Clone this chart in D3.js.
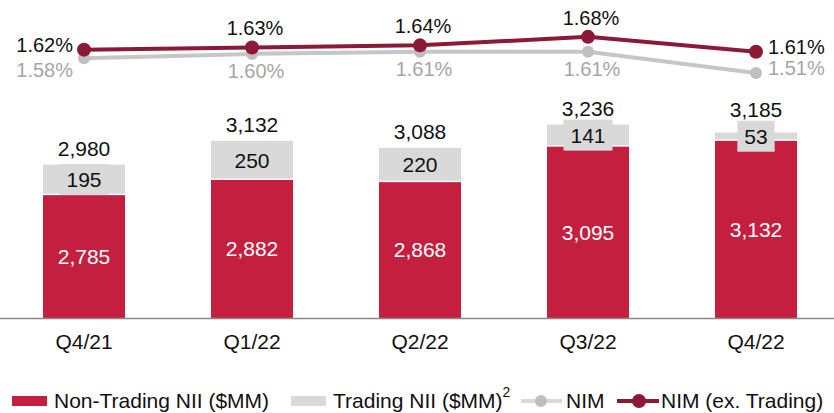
<!DOCTYPE html>
<html>
<head>
<meta charset="utf-8">
<script src="https://cdn.jsdelivr.net/npm/d3@7"></script>
<style>
  body { margin: 0; background: #fff; }
  svg { display: block; font-family: "Liberation Sans", Arial, sans-serif; }
</style>
</head>
<body>
<svg id="chart"></svg>
<script>
const quarters = ['Q4/21', 'Q1/22', 'Q2/22', 'Q3/22', 'Q4/22'];
const nonTrading = [2785, 2882, 2868, 3095, 3132];
const trading = [195, 250, 220, 141, 53];
const totals = [2980, 3132, 3088, 3236, 3185];
const nim = [1.58, 1.60, 1.61, 1.61, 1.51];
const nimExTrading = [1.62, 1.63, 1.64, 1.68, 1.61];

const width = 834, height = 413;
const baseY = 318;
const red = '#C41F3E', lightGray = '#D9D9D9', darkRed = '#8C1A36', nimGray = '#C6C6C6', nimText = '#A6A6A6';
const barFont = 21, pctFont = 20, legFont = 21;

const svg = d3.select('#chart').attr('width', width).attr('height', height);

const x = d3.scaleBand().domain(quarters).range([0, 840]).paddingInner(0.512).paddingOuter(0.256);
const y = d3.scaleLinear().domain([2000, 4032]).range([baseY, 0]);
const yPct = d3.scaleLinear().domain([0.36, 1.853]).range([baseY, 0]);
const fmt = d3.format(',');
const pct = d => d.toFixed(2) + '%';

const data = quarters.map((q, i) => ({
  q, nt: nonTrading[i], tr: trading[i], total: totals[i], nim: nim[i], nimx: nimExTrading[i]
}));

// bars
const g = svg.append('g');
g.selectAll('rect.nt').data(data).join('rect')
  .attr('class', 'nt')
  .attr('x', d => x(d.q)).attr('width', x.bandwidth())
  .attr('y', d => y(d.nt)).attr('height', d => baseY - y(d.nt))
  .attr('fill', red);

g.selectAll('rect.tr').data(data).join('rect')
  .attr('class', 'tr')
  .attr('x', d => x(d.q)).attr('width', x.bandwidth())
  .attr('y', d => y(d.nt + d.tr)).attr('height', d => y(d.nt) - y(d.nt + d.tr) - 1.5)
  .attr('fill', lightGray);

// trading label boxes + labels
const trLabel = g.selectAll('g.trl').data(data).join('g').attr('class', 'trl')
  .attr('transform', d => `translate(${x(d.q) + x.bandwidth() / 2},${(y(d.nt) + y(d.nt + d.tr)) / 2})`);
trLabel.append('text')
  .attr('text-anchor', 'middle').attr('dy', '0.35em')
  .attr('font-size', barFont).attr('fill', '#111')
  .text(d => d.tr)
  .each(function(d) {
    const bb = this.getBBox();
    d.boxW = bb.width + 14;
    d.boxTop = (y(d.nt) + y(d.nt + d.tr)) / 2 - 16;
  });
trLabel.insert('rect', 'text')
  .attr('x', d => -d.boxW / 2).attr('width', d => d.boxW)
  .attr('y', -16).attr('height', 31)
  .attr('fill', lightGray);

// non-trading labels
g.selectAll('text.ntl').data(data).join('text')
  .attr('class', 'ntl')
  .attr('x', d => x(d.q) + x.bandwidth() / 2)
  .attr('y', d => (y(d.nt) + baseY) / 2)
  .attr('dy', '0.35em').attr('text-anchor', 'middle')
  .attr('font-size', barFont).attr('fill', '#fff')
  .text(d => fmt(d.nt));

// total labels
g.selectAll('text.tot').data(data).join('text')
  .attr('class', 'tot')
  .attr('x', d => x(d.q) + x.bandwidth() / 2)
  .attr('y', d => Math.min(y(d.nt + d.tr) - 16, d.boxTop - 11))
  .attr('dy', '0.35em').attr('text-anchor', 'middle')
  .attr('font-size', barFont).attr('fill', '#111')
  .text(d => fmt(d.total));

// axis
const xAxis = svg.append('g')
  .attr('transform', `translate(0,${baseY})`)
  .call(d3.axisBottom(x).tickSize(0).tickPadding(16));
xAxis.select('.domain').attr('d', `M0,0.5H${width}`).attr('stroke', '#888').attr('stroke-width', 1.3);
xAxis.selectAll('.tick text').attr('font-size', barFont).attr('fill', '#111')
  .attr('font-family', '"Liberation Sans", Arial, sans-serif');

// lines
const cx = d => x(d.q) + x.bandwidth() / 2;
const lineNim = d3.line().x(cx).y(d => yPct(d.nim));
const lineNimX = d3.line().x(cx).y(d => yPct(d.nimx));

svg.append('path').attr('d', lineNim(data)).attr('fill', 'none')
  .attr('stroke', nimGray).attr('stroke-width', 4);
svg.selectAll('circle.nim').data(data).join('circle').attr('class', 'nim')
  .attr('cx', cx).attr('cy', d => yPct(d.nim)).attr('r', 6).attr('fill', '#BFBFBF');

svg.append('path').attr('d', lineNimX(data)).attr('fill', 'none')
  .attr('stroke', darkRed).attr('stroke-width', 4);
svg.selectAll('circle.nimx').data(data).join('circle').attr('class', 'nimx')
  .attr('cx', cx).attr('cy', d => yPct(d.nimx)).attr('r', 7).attr('fill', darkRed);

// line labels
const last = data.length - 1;
svg.selectAll('text.nimxl').data(data).join('text').attr('class', 'nimxl')
  .attr('x', (d, i) => i === 0 ? cx(d) - 11 : i === last ? cx(d) + 12 : cx(d) + 3)
  .attr('y', (d, i) => (i === 0 || i === last) ? yPct(d.nimx) - 5 : yPct(d.nimx) - 19)
  .attr('text-anchor', (d, i) => i === 0 ? 'end' : i === last ? 'start' : 'middle')
  .attr('dy', '0.35em').attr('font-size', pctFont).attr('fill', '#111')
  .text(d => pct(d.nimx));

svg.selectAll('text.niml').data(data).join('text').attr('class', 'niml')
  .attr('x', (d, i) => i === 0 ? cx(d) - 11 : i === last ? cx(d) + 12 : cx(d) + 4)
  .attr('y', (d, i) => i === 0 ? yPct(d.nim) + 12 : i === last ? yPct(d.nim) - 5 : yPct(d.nim) + 17)
  .attr('text-anchor', (d, i) => i === 0 ? 'end' : i === last ? 'start' : 'middle')
  .attr('dy', '0.35em').attr('font-size', pctFont).attr('fill', nimText)
  .text(d => pct(d.nim));

// legend
const ly = 401;
const leg = svg.append('g').attr('font-size', legFont).attr('fill', '#111');
leg.append('rect').attr('x', 12).attr('y', ly - 5).attr('width', 35).attr('height', 10).attr('fill', red);
leg.append('text').attr('x', 54).attr('y', ly).attr('dy', '0.33em').text('Non-Trading NII ($MM)');
leg.append('rect').attr('x', 291).attr('y', ly - 5).attr('width', 35).attr('height', 10).attr('fill', lightGray);
const t2 = leg.append('text').attr('x', 333).attr('y', ly).attr('dy', '0.33em').text('Trading NII ($MM)');
t2.append('tspan').attr('font-size', 14).attr('dy', '-0.75em').text('2');
leg.append('line').attr('x1', 521).attr('x2', 562).attr('y1', ly).attr('y2', ly)
  .attr('stroke', '#D9D9D9').attr('stroke-width', 4);
leg.append('circle').attr('cx', 541).attr('cy', ly).attr('r', 6).attr('fill', '#BFBFBF');
leg.append('text').attr('x', 566).attr('y', ly).attr('dy', '0.33em').text('NIM');
leg.append('line').attr('x1', 617).attr('x2', 659).attr('y1', ly).attr('y2', ly)
  .attr('stroke', darkRed).attr('stroke-width', 4);
leg.append('circle').attr('cx', 639).attr('cy', ly).attr('r', 7).attr('fill', darkRed);
leg.append('text').attr('x', 661).attr('y', ly).attr('dy', '0.33em').text('NIM (ex. Trading)');
</script>
</body>
</html>
